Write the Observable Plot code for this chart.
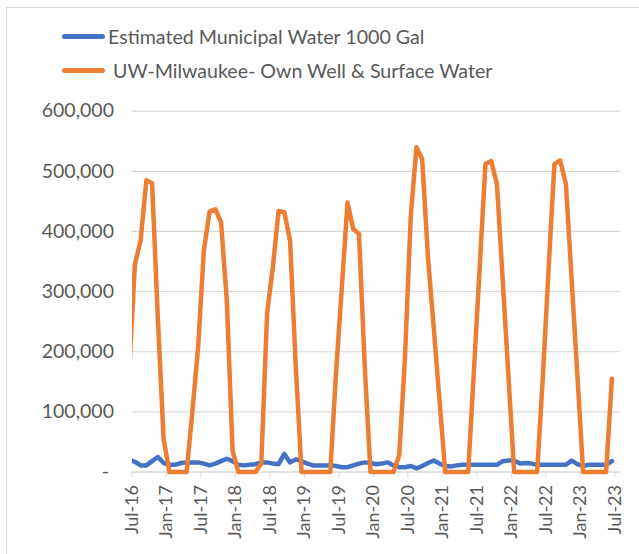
<!DOCTYPE html>
<html><head><meta charset="utf-8">
<script src="https://cdn.jsdelivr.net/npm/d3@7"></script>
<script src="https://cdn.jsdelivr.net/npm/@observablehq/plot@0.6"></script>
<style>
body{margin:0;background:#fff;font-family:Lato,"Open Sans",sans-serif;}
#wrap{position:relative;width:639px;height:554px;overflow:hidden;background:#fff;}
#frame{position:absolute;left:6px;top:7px;width:700px;height:600px;border:1px solid #d9d9d9;}
.leg{position:absolute;left:62px;height:20px;display:flex;align-items:center;color:#595959;font-size:19.6px;white-space:pre;}
.sw{width:43px;height:5px;border-radius:3px;margin-right:3px;}
#chart{position:absolute;left:0;top:90px;}
</style></head>
<body>
<div id="wrap">
  <div id="frame"></div>
  <div class="leg" id="leg1" style="top:26px"></div>
  <div class="leg" id="leg2" style="top:60px"></div>
  <div id="chart"></div>
</div>
<script>
// Series names and colours
const seriesNames = ["Estimated Municipal Water 1000 Gal", " UW-Milwaukee- Own Well & Surface Water"];
const seriesColors = ["#4472C4", "#ED7D31"];
// Monthly data, first value Jun-16 (partly outside the axis), then Jul-16 ... Jun-23
const municipal = [20,17,11,11,18,25,15,12,12,15,16,
  16,16,14,11,14,18,22,18,12,11,
  12,13,16,16,14,13,30,16,21,18,
  14,11,11,11,11,10,8,8,11,14,
  16,15,13,14,16,11,8,8,10,6,
  10,15,19,14,10,9,11,12,12,12,
  12,12,12,12,18,19,19,14,15,14,
  12,12,12,12,12,12,19,13,10,12,
  12,12,12,18].map(v => v * 1000);
const uwm = [165,345,385,485,480,255,55,0,0,0,0,
  100,207,368,433,437,415,285,36,0,0,
  0,0,14,263,340,434,432,385,175,0,
  0,0,0,0,0,165,305,448,404,396,
  175,0,0,0,0,0,28,190,425,540,
  520,357,240,120,0,0,0,0,0,170,
  340,512,517,479,320,160,0,0,0,0,
  0,160,340,512,518,479,320,160,0,0,
  0,0,0,155].map(v => v * 1000);
// Axis labels
const xTickLabels = ["Jul-16","Jan-17","Jul-17","Jan-18","Jul-18","Jan-19","Jul-19","Jan-20","Jul-20","Jan-21","Jul-21","Jan-22","Jul-22","Jan-23","Jul-23"];
const yTicks = [0,100000,200000,300000,400000,500000,600000];

// legend
[["leg1",0],["leg2",1]].forEach(([id,k]) => {
  const el = document.getElementById(id);
  const sw = document.createElement("div"); sw.className = "sw"; sw.style.background = seriesColors[k];
  const tx = document.createElement("span"); tx.textContent = seriesNames[k];
  el.appendChild(sw); el.appendChild(tx);
});

// rows: month slot index (Jul-16 slot = 0), point centered in its slot
const rows = [];
municipal.forEach((v,i) => rows.push({m: i - 1 + 0.5, value: v, series: seriesNames[0]}));
uwm.forEach((v,i) => rows.push({m: i - 1 + 0.5, value: v, series: seriesNames[1]}));
const xTickPos = xTickLabels.map((_, i) => i * 6);

const W = 639, H = 464, ML = 131.5, MR = 19, MT = 20.7, MB = 82.5;
const chart = Plot.plot({
  width: W, height: H,
  marginLeft: ML, marginRight: MR, marginTop: MT, marginBottom: MB,
  style: {fontFamily: "Lato, 'Open Sans', sans-serif", background: "transparent", color: "#595959"},
  x: {type: "linear", domain: [0, 85]},
  y: {domain: [0, 600000]},
  marks: [
    Plot.gridY(yTicks.filter(d => d > 0), {stroke: "#d9d9d9", strokeOpacity: 1, strokeWidth: 1.2}),
    Plot.ruleY([0], {stroke: "#d9d9d9", strokeWidth: 1.5}),
    Plot.axisY({ticks: yTicks.filter(d => d > 0), tickSize: 0, tickPadding: 18, tickFormat: d3.format(","), fill: "#595959", fontSize: 19.5, label: null}),
    Plot.text([0], {y: d => d, text: () => "-", frameAnchor: "left", dx: -23, textAnchor: "end", fill: "#595959", fontSize: 19.5}),
    Plot.axisX({ticks: xTickPos, tickFormat: d => xTickLabels[Math.round(d / 6)], tickSize: 6, tickPadding: 7, tickRotate: -90, stroke: "#d9d9d9", fill: "#595959", fontSize: 18, label: null}),
    Plot.line(rows.filter(r => r.series === seriesNames[0]), {x: "m", y: "value", stroke: seriesColors[0], strokeWidth: 4.5, strokeLinejoin: "round", strokeLinecap: "round"}),
    Plot.line(rows.filter(r => r.series === seriesNames[1]), {x: "m", y: "value", stroke: seriesColors[1], strokeWidth: 4.5, strokeLinejoin: "round", strokeLinecap: "round"})
  ]
});
// clip the lines horizontally to the plot frame
const ns = "http://www.w3.org/2000/svg";
const defs = document.createElementNS(ns, "defs");
const cp = document.createElementNS(ns, "clipPath"); cp.setAttribute("id", "xclip");
const rc = document.createElementNS(ns, "rect");
rc.setAttribute("x", ML); rc.setAttribute("y", 0); rc.setAttribute("width", W - ML - MR); rc.setAttribute("height", H);
cp.appendChild(rc); defs.appendChild(cp); chart.insertBefore(defs, chart.firstChild);
chart.querySelectorAll('g[aria-label="line"]').forEach(g => g.setAttribute("clip-path", "url(#xclip)"));
document.getElementById("chart").appendChild(chart);
</script>
</body></html>
